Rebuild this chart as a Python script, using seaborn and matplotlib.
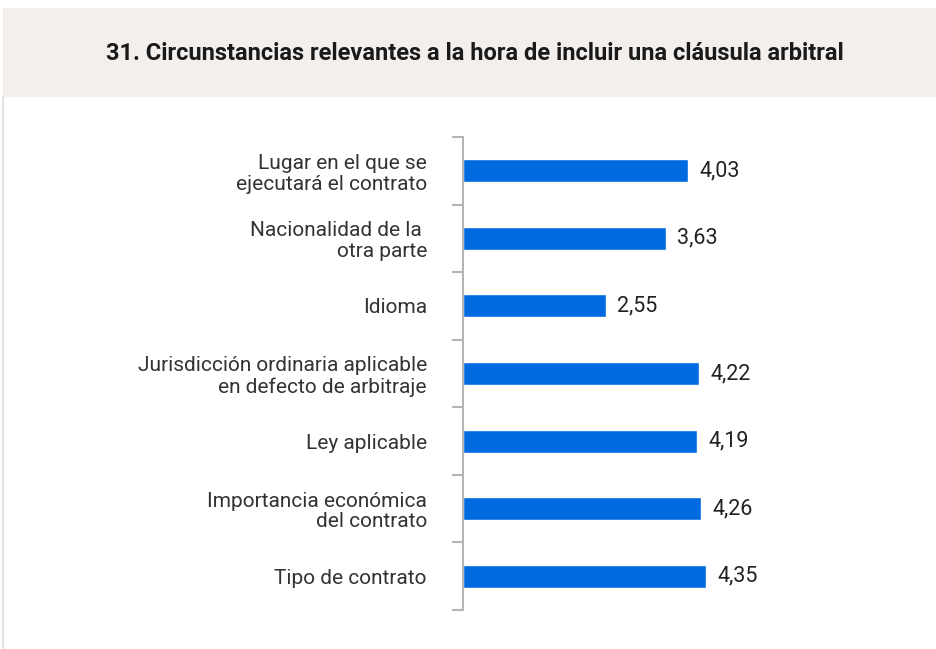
import numpy as np
import pandas as pd
import seaborn as sns
import matplotlib.pyplot as plt
from matplotlib.patches import Rectangle
from matplotlib.lines import Line2D

TITLE = "31. Circunstancias relevantes a la hora de incluir una cláusula arbitral"
categories = [
    "Lugar en el que se\nejecutará el contrato",
    "Nacionalidad de la \notra parte",
    "Idioma",
    "Jurisdicción ordinaria aplicable\nen defecto de arbitraje",
    "Ley aplicable",
    "Importancia económica\ndel contrato",
    "Tipo de contrato",
]
values = [4.03, 3.63, 2.55, 4.22, 4.19, 4.26, 4.35]

df = pd.DataFrame({"circunstancia": categories, "valor": values})

sns.set_style("white")
plt.rcParams['font.family'] = ['Roboto', 'DejaVu Sans']

fig = plt.figure(figsize=(9.37, 6.49), dpi=100)
ax = fig.add_axes([463 / 937, 1 - 610 / 649, (900 - 463) / 937, (610 - 137) / 649])

# title band and panel border
fig.patches.append(Rectangle((3 / 937, 1 - 97 / 649), 1, 89 / 649, transform=fig.transFigure,
                             facecolor="#f2efed", edgecolor="none", zorder=0))
fig.lines.append(Line2D([3 / 937, 3 / 937], [0, 1 - 97 / 649], transform=fig.transFigure,
                        color="#e4e4e4", lw=1.5))
fig.text(0.507, 1 - 53 / 649, TITLE, ha="center", va="center", fontsize=17,
         fontweight="bold", color="#1a1a1a")

sns.barplot(data=df, y="circunstancia", x="valor", orient="h", color="#006be0",
            width=0.34, saturation=1, ax=ax)

labels = [f"{v:.2f}".replace(".", ",") for v in values]
ax.bar_label(ax.containers[0], labels=labels, padding=8, fontsize=15.5, color="#222222")

ax.set_xlim(0, (900 - 463) / 55.9)
ax.set_ylim(len(categories) - 0.5, -0.5)
ax.set_xlabel("")
ax.set_ylabel("")
ax.set_xticks([])

ax.tick_params(axis="y", which="major", left=False, length=0, pad=26,
               labelsize=15, labelcolor="#333333")
ax.set_yticks(np.arange(-0.5, len(categories), 1), minor=True)
ax.tick_params(axis="y", which="minor", left=True, length=8, width=1.5, color="#b5b5b5")
for t in ax.get_yticklabels():
    t.set_linespacing(1.12)

for s in ["top", "right", "bottom"]:
    ax.spines[s].set_visible(False)
ax.spines["left"].set_color("#b5b5b5")
ax.spines["left"].set_linewidth(1.5)

fig.savefig("out.png", dpi=100)
